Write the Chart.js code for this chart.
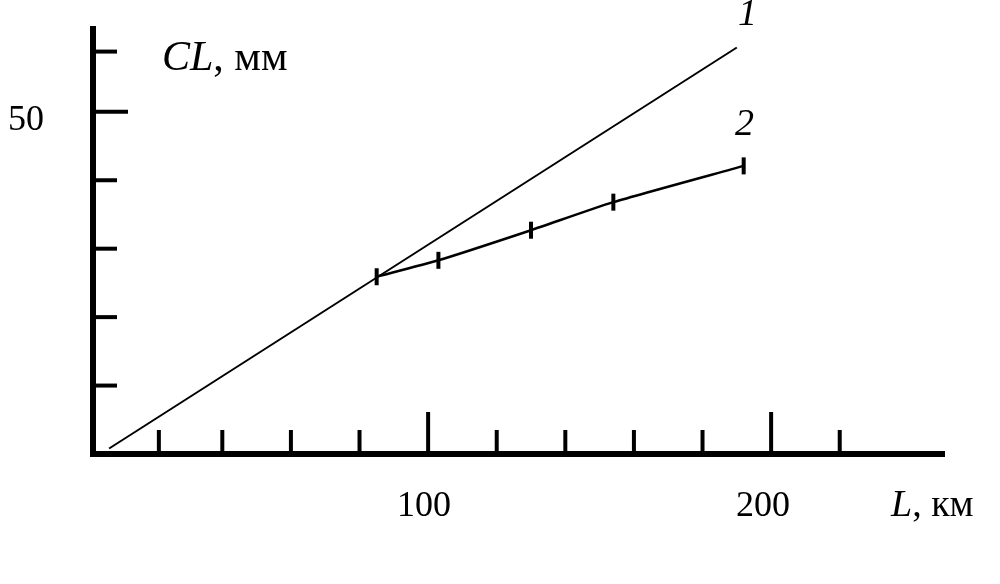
<!DOCTYPE html>
<html>
<head>
<meta charset="utf-8">
<script src="https://cdn.jsdelivr.net/npm/chart.js@4/dist/chart.umd.min.js"></script>
<style>
  html, body { margin: 0; padding: 0; background: #fff; }
  #wrap { width: 1000px; height: 584px; }
</style>
</head>
<body>
<div id="wrap"><canvas id="chart" width="1000" height="584"></canvas></div>
<script>
// curve 1 - straight line, curve 2 - bends off at ~85 km
var lengths1 = [7, 190];
var values1  = [0.8, 59.4];

var lengths2 = [85, 103, 130, 154, 192];
var values2  = [25.9, 28.3, 32.7, 36.8, 42.1];

// tick marks
var xTickValues = [21.5, 40, 60, 80, 100, 120, 140, 160, 180, 200, 220];
var xMajor      = [100, 200];
var yTickValues = [10, 20, 30, 40, 50, 58.8];
var yMajor      = [50];

var SERIF = '"Liberation Serif", "DejaVu Serif", serif';

function toPoints(xs, ys) {
  return xs.map(function (x, i) { return { x: x, y: ys[i] }; });
}

// draws a run of text pieces, some italic
function drawParts(ctx, parts, x, y, size) {
  parts.forEach(function (p) {
    ctx.font = (p.italic ? 'italic ' : '') + size + 'px ' + SERIF;
    ctx.fillText(p.text, x, y);
    x += ctx.measureText(p.text).width;
  });
}

var axisDecor = {
  id: 'axisDecor',
  afterDraw: function (chart) {
    var ctx = chart.ctx;
    var xs = chart.scales.x, ys = chart.scales.y;
    var area = chart.chartArea;

    ctx.save();
    ctx.strokeStyle = '#000';
    ctx.lineWidth = 4;
    ctx.lineCap = 'butt';

    // inward ticks on the x axis
    xTickValues.forEach(function (v) {
      var px = xs.getPixelForValue(v);
      var len = xMajor.indexOf(v) >= 0 ? 42 : 24;
      ctx.beginPath();
      ctx.moveTo(px, area.bottom);
      ctx.lineTo(px, area.bottom - len);
      ctx.stroke();
    });

    // inward ticks on the y axis
    yTickValues.forEach(function (v) {
      var py = ys.getPixelForValue(v);
      var len = yMajor.indexOf(v) >= 0 ? 35 : 24;
      ctx.beginPath();
      ctx.moveTo(area.left, py);
      ctx.lineTo(area.left + len, py);
      ctx.stroke();
    });

    ctx.fillStyle = '#000';
    ctx.textBaseline = 'alphabetic';

    // tick labels
    ctx.font = '36px ' + SERIF;
    ctx.textAlign = 'left';
    ctx.fillText('50', 8, ys.getPixelForValue(50) + 18);
    ctx.textAlign = 'center';
    ctx.fillText('100', xs.getPixelForValue(100) - 4, 516);
    ctx.fillText('200', xs.getPixelForValue(200) - 8, 516);

    // axis titles
    ctx.textAlign = 'left';
    drawParts(ctx, [{ text: 'CL', italic: true }, { text: ', мм' }], 162, 70, 42);
    drawParts(ctx, [{ text: 'L', italic: true }, { text: ', км' }], 891, 516, 38);

    // curve numbers
    drawParts(ctx, [{ text: '1', italic: true }], 738, 25, 38);
    drawParts(ctx, [{ text: '2', italic: true }], 735, 135, 38);

    ctx.restore();
  }
};

var ctx = document.getElementById('chart').getContext('2d');
new Chart(ctx, {
  type: 'line',
  data: {
    datasets: [
      {
        label: '1',
        data: toPoints(lengths1, values1),
        borderColor: '#000',
        borderWidth: 2,
        pointRadius: 0,
        fill: false
      },
      {
        label: '2',
        data: toPoints(lengths2, values2),
        borderColor: '#000',
        borderWidth: 2.5,
        tension: 0.2,
        pointStyle: 'line',
        rotation: 90,
        pointRadius: 8.5,
        pointBorderWidth: 4,
        pointBorderColor: '#000',
        pointBackgroundColor: '#000',
        fill: false
      }
    ]
  },
  options: {
    responsive: false,
    animation: false,
    layout: { padding: { left: 93, right: 56, top: 29, bottom: 130 } },
    plugins: {
      legend: { display: false },
      tooltip: { enabled: false }
    },
    scales: {
      x: {
        type: 'linear',
        min: 2.3,
        max: 250.4,
        grid: { display: false, drawTicks: false, tickLength: 0 },
        ticks: { display: false },
        border: { display: true, color: '#000', width: 6 }
      },
      y: {
        type: 'linear',
        min: 0,
        max: 62.1,
        grid: { display: false, drawTicks: false, tickLength: 0 },
        ticks: { display: false },
        border: { display: true, color: '#000', width: 6 }
      }
    }
  },
  plugins: [axisDecor]
});
</script>
</body>
</html>
